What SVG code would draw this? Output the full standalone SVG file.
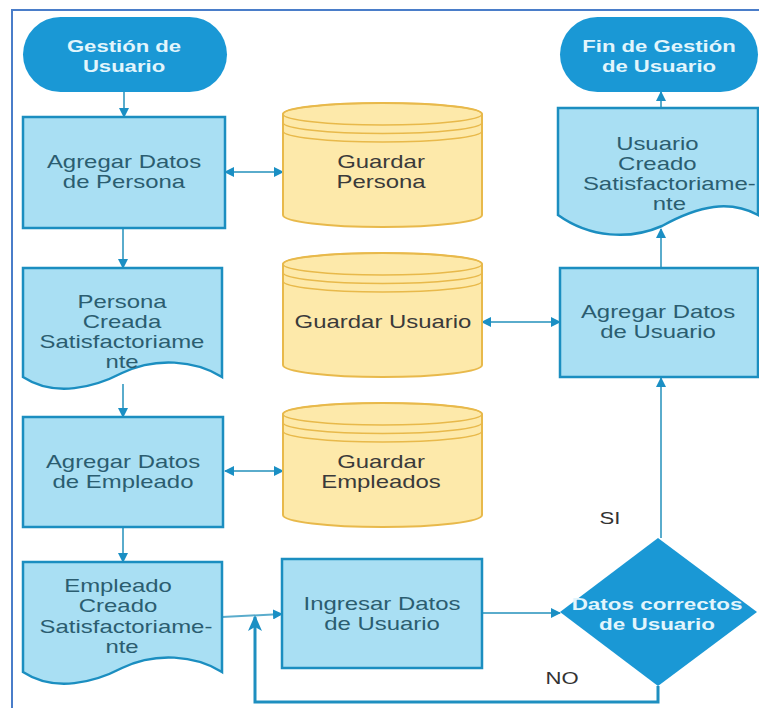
<svg xmlns="http://www.w3.org/2000/svg" width="759" height="708" viewBox="0 0 759 708">
<style>
.frame{fill:#ffffff;stroke:#4a7dc9;stroke-width:2}
.term{fill:#1a98d5}
.box{fill:#a9dff3;stroke:#1b8ec0;stroke-width:2.5}
.cyl{fill:#fde9aa;stroke:#e8b94b;stroke-width:2}
.cylin{fill:none;stroke:#e8b94b;stroke-width:1.5}
.dia{fill:#1a98d5}
.t{font-family:"Liberation Sans",Arial,sans-serif;font-size:18px;fill:#2b5d70;text-anchor:middle}
.tc{font-family:"Liberation Sans",Arial,sans-serif;font-size:18px;fill:#3a3a3a;text-anchor:middle}
.tw{font-family:"Liberation Sans",Arial,sans-serif;font-size:17px;font-weight:bold;fill:#e2f5fc;text-anchor:middle}
.lbl{font-family:"Liberation Sans",Arial,sans-serif;font-size:17px;fill:#333333;text-anchor:middle}
.ln{fill:none;stroke:#5aaccc;stroke-width:2}
.lnb{fill:none;stroke:#1e8fc0;stroke-width:3}
</style>
<defs>
<marker id="ah" markerUnits="userSpaceOnUse" markerWidth="10" markerHeight="10" viewBox="0 0 10 10" refX="9" refY="5" orient="auto-start-reverse">
<path d="M0,0 L10,5 L0,10 Z" fill="#1a8fc4"/>
</marker>
<marker id="ahb" markerUnits="userSpaceOnUse" markerWidth="16" markerHeight="14" viewBox="0 0 16 14" refX="14" refY="7" orient="auto">
<path d="M0,0 L16,7 L0,14 L4,7 Z" fill="#1a8fc4"/>
</marker>
</defs>
<rect x="0" y="0" width="759" height="708" fill="#ffffff"/>
<rect class="frame" x="12" y="10" width="760" height="710"/>

<g id="connectors">
<path class="ln" d="M124,92 V117" marker-end="url(#ah)"/>
<path class="ln" d="M225,172 H283" marker-start="url(#ah)" marker-end="url(#ah)"/>
<path class="ln" d="M123,228 V268" marker-end="url(#ah)"/>
<path class="ln" d="M123,384 V417" marker-end="url(#ah)"/>
<path class="ln" d="M225,471 H283" marker-start="url(#ah)" marker-end="url(#ah)"/>
<path class="ln" d="M123,527 V562" marker-end="url(#ah)"/>
<path class="ln" d="M222,617 L282,614" marker-end="url(#ah)"/>
<path class="ln" d="M482,613 H560" marker-end="url(#ah)"/>
<path class="lnb" d="M658,686 V702 H255 V617" marker-end="url(#ahb)"/>
<path class="ln" d="M661,538 V378" marker-end="url(#ah)"/>
<path class="ln" d="M482,322 H560" marker-start="url(#ah)" marker-end="url(#ah)"/>
<path class="ln" d="M661,268 V229" marker-end="url(#ah)"/>
<path class="ln" d="M661,108 V92" marker-end="url(#ah)"/>
</g>

<g id="start">
<rect class="term" x="23" y="17" width="204" height="75" rx="37.5"/>
<text class="tw" transform="translate(124,52) scale(1.3 1)"><tspan x="0">Gestión de</tspan><tspan x="0" y="20">Usuario</tspan></text>
</g>

<g id="agregar-persona">
<rect class="box" x="23" y="117" width="202" height="111"/>
<text class="t" transform="translate(124,168) scale(1.33 1)"><tspan x="0">Agregar Datos</tspan><tspan x="0" y="20">de Persona</tspan></text>
</g>

<g id="guardar-persona">
<path class="cyl" d="M283,114 V215 A99.5,12 0 0 0 482,215 V114 A99.5,11 0 0 0 283,114 Z"/>
<ellipse class="cylin" cx="382.5" cy="114" rx="99.5" ry="11"/>
<path class="cylin" d="M283,122.5 A99.5,11 0 0 0 482,122.5 M283,131 A99.5,11 0 0 0 482,131"/>
<text class="tc" transform="translate(381,168) scale(1.33 1)"><tspan x="0">Guardar</tspan><tspan x="0" y="20">Persona</tspan></text>
</g>

<g id="persona-creada">
<path class="box" d="M23,268 H222 V377 C195,360 155,357 122,373 C95,387 55,398 23,377 Z"/>
<text class="t" transform="translate(122,308) scale(1.33 1)"><tspan x="0">Persona</tspan><tspan x="0" y="20">Creada</tspan><tspan x="0" y="40">Satisfactoriame</tspan><tspan x="0" y="60">nte</tspan></text>
</g>

<g id="guardar-usuario">
<path class="cyl" d="M283,264 V365 A99.5,12 0 0 0 482,365 V264 A99.5,11 0 0 0 283,264 Z"/>
<ellipse class="cylin" cx="382.5" cy="264" rx="99.5" ry="11"/>
<path class="cylin" d="M283,272.5 A99.5,11 0 0 0 482,272.5 M283,281 A99.5,11 0 0 0 482,281"/>
<text class="tc" transform="translate(383,328) scale(1.33 1)">Guardar Usuario</text>
</g>

<g id="agregar-empleado">
<rect class="box" x="23" y="417" width="200" height="110"/>
<text class="t" transform="translate(123,468) scale(1.33 1)"><tspan x="0">Agregar Datos</tspan><tspan x="0" y="20">de Empleado</tspan></text>
</g>

<g id="guardar-empleados">
<path class="cyl" d="M283,414 V515 A99.5,12 0 0 0 482,515 V414 A99.5,11 0 0 0 283,414 Z"/>
<ellipse class="cylin" cx="382.5" cy="414" rx="99.5" ry="11"/>
<path class="cylin" d="M283,422.5 A99.5,11 0 0 0 482,422.5 M283,431 A99.5,11 0 0 0 482,431"/>
<text class="tc" transform="translate(381,468) scale(1.33 1)"><tspan x="0">Guardar</tspan><tspan x="0" y="20">Empleados</tspan></text>
</g>

<g id="empleado-creado">
<path class="box" d="M23,562 H222 V672 C195,655 155,652 122,668 C95,682 55,693 23,672 Z"/>
<text class="t" transform="translate(122,592) scale(1.33 1)"><tspan x="-3">Empleado</tspan><tspan x="-3" y="20">Creado</tspan><tspan x="3" y="41">Satisfactoriame-</tspan><tspan x="0" y="61">nte</tspan></text>
</g>

<g id="ingresar-usuario">
<rect class="box" x="282" y="559" width="200" height="109"/>
<text class="t" transform="translate(382,610) scale(1.33 1)"><tspan x="0">Ingresar Datos</tspan><tspan x="0" y="20">de Usuario</tspan></text>
</g>

<g id="decision">
<path class="dia" d="M658,538 L757,612 L658,686 L560,612 Z"/>
<text class="tw" transform="translate(657,610) scale(1.32 1)"><tspan x="0">Datos correctos</tspan><tspan x="0" y="20">de Usuario</tspan></text>
<text class="lbl" transform="translate(610,524) scale(1.3 1)">SI</text>
<text class="lbl" transform="translate(562,684) scale(1.3 1)">NO</text>
</g>

<g id="agregar-usuario">
<rect class="box" x="560" y="268" width="198" height="109"/>
<text class="t" transform="translate(658,318) scale(1.33 1)"><tspan x="0">Agregar Datos</tspan><tspan x="0" y="20">de Usuario</tspan></text>
</g>

<g id="usuario-creado">
<path class="box" d="M558,108 H758 V215 C730,200 700,205 662,226 C630,240 590,238 558,215 Z"/>
<text class="t" transform="translate(660,150) scale(1.33 1)"><tspan x="-2">Usuario</tspan><tspan x="-2" y="20">Creado</tspan><tspan x="7" y="40">Satisfactoriame-</tspan><tspan x="7" y="60">nte</tspan></text>
</g>

<g id="end">
<rect class="term" x="560" y="17" width="198" height="75" rx="37.5"/>
<text class="tw" transform="translate(659,52) scale(1.3 1)"><tspan x="0">Fin de Gestión</tspan><tspan x="0" y="20">de Usuario</tspan></text>
</g>
</svg>
